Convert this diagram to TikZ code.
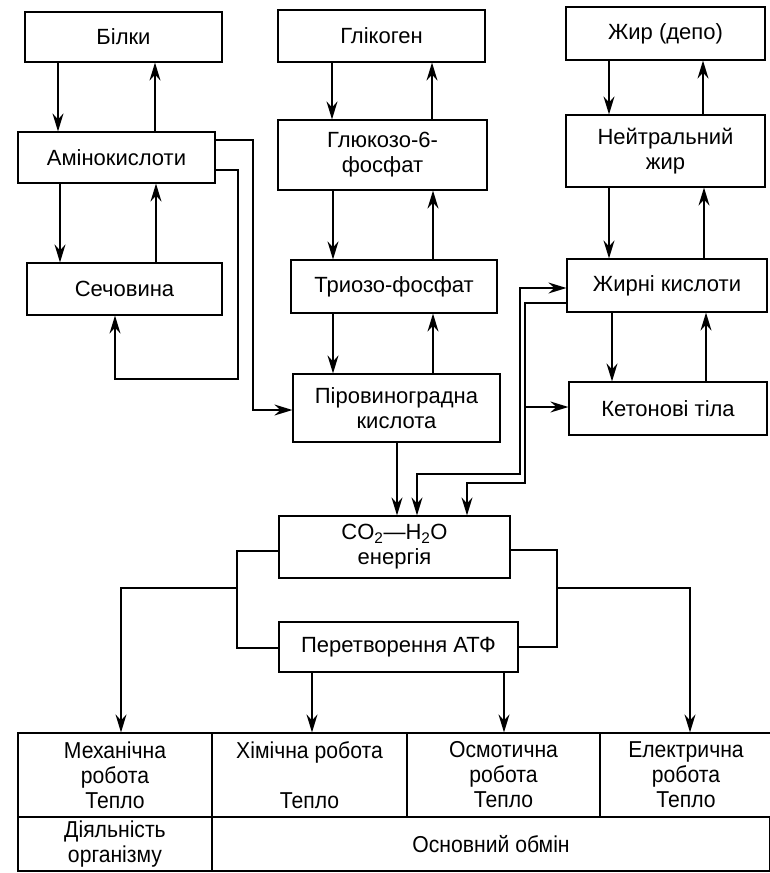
\documentclass[tikz,border=0pt]{standalone}
\usepackage{fontspec}
\setmainfont{Liberation Sans}
\newfontfamily\narrowfont[FakeStretch=0.92]{Liberation Sans}
\usetikzlibrary{arrows.meta}

\begin{document}
\begin{tikzpicture}[x=1pt,y=-1pt,line width=1.2pt,
    >={Stealth[length=18pt,width=11pt,inset=6pt]},
    box/.style={draw,rectangle,inner sep=0pt,align=center,
      font=\fontsize{22}{25}\selectfont},
    cell/.style={draw,rectangle,inner sep=0pt,align=center,
      font=\narrowfont\fontsize{23}{25}\selectfont}]
      \useasboundingbox (0,0) rectangle (770,873);
      \draw
        (123.5,37) node[box,minimum width=197pt,minimum height=50pt] (bilky){Білки}
        (116.5,157.5) node[box,minimum width=197pt,minimum height=51pt] (amino){Амінокислоти}
        (124.5,289) node[box,minimum width=195pt,minimum height=52pt] (sech){Сечовина}
        (381.5,36) node[box,minimum width=207pt,minimum height=52pt] (glik){Глікоген}
        (382.5,155) node[box,minimum width=209pt,minimum height=70pt] (gluk){Глюкозо-6-\\фосфат}
        (394,286.5) node[box,minimum width=206pt,minimum height=53pt] (trioz){Триозо-фосфат}
        (396.5,408) node[box,minimum width=207pt,minimum height=68pt] (piro){Піровиноградна\\кислота}
        (665.5,33.5) node[box,minimum width=199pt,minimum height=53pt] (depo){Жир (депо)}
        (665.5,151) node[box,minimum width=199pt,minimum height=72pt] (neut){Нейтральний\\жир}
        (667,285.5) node[box,minimum width=200pt,minimum height=53pt] (zhk){Жирні кислоти}
        (668,408.5) node[box,minimum width=198pt,minimum height=53pt] (keto){Кетонові тіла}
        (394.5,547) node[box,minimum width=231pt,minimum height=62pt] (co2){CO\textsubscript{2}---H\textsubscript{2}O\\енергія}
        (398.5,647) node[box,minimum width=239pt,minimum height=50pt] (atf){Перетворення АТФ};
      \draw
        (115,775) node[cell,minimum width=194pt,minimum height=84pt] (mech){Механічна\\робота\\Тепло}
        (309.5,775) node[cell,minimum width=195pt,minimum height=84pt] (him){Хімічна робота\\\strut\\Тепло}
        (503.5,775) node[cell,minimum width=193pt,minimum height=84pt] (osm){Осмотична\\робота\\Тепло}
        (686,775) node[cell,minimum width=172pt,minimum height=84pt] (elek){Електрична\\робота\\Тепло}
        (115,844) node[cell,minimum width=194pt,minimum height=54pt] (dial){Діяльність\\організму}
        (491,844) node[cell,minimum width=558pt,minimum height=54pt] (osn){Основний обмін};
      \coordinate (kbranch) at (525,407);
      \coordinate (lbranch) at (237,588);
      \coordinate (rbranch) at (557,588);
      \begin{scope}[->]
        \draw (bilky.south -| 58,0) to (amino.north -| 58,0);
        \draw (amino.north -| 155,0) to (bilky.south -| 155,0);
        \draw (amino.south -| 60,0) to (sech.north -| 60,0);
        \draw (sech.north -| 156,0) to (amino.south -| 156,0);
        \draw (glik.south -| 332,0) to (gluk.north -| 332,0);
        \draw (gluk.north -| 432,0) to (glik.south -| 432,0);
        \draw (gluk.south -| 333,0) to (trioz.north -| 333,0);
        \draw (trioz.north -| 433,0) to (gluk.south -| 433,0);
        \draw (trioz.south -| 333,0) to (piro.north -| 333,0);
        \draw (piro.north -| 433,0) to (trioz.south -| 433,0);
        \draw (depo.south -| 609,0) to (neut.north -| 609,0);
        \draw (neut.north -| 703,0) to (depo.south -| 703,0);
        \draw (neut.south -| 609,0) to (zhk.north -| 609,0);
        \draw (zhk.north -| 704,0) to (neut.south -| 704,0);
        \draw (zhk.south -| 612,0) to (keto.north -| 612,0);
        \draw (keto.north -| 706,0) to (zhk.south -| 706,0);
        \draw (piro.south -| 397,0) to (co2.north -| 397,0);
        \draw (amino.east |- 0,170) -| (238,379) -| (sech.south -| 115,0);
        \draw (amino.east |- 0,140) -| (253,410) -- (piro.west |- 0,410);
        \draw[<->] (co2.north -| 417,0) |- (520,474) |- (zhk.west |- 0,288);
        \draw (zhk.west |- 0,303) -| (525,483) -| (co2.north -| 467,0);
        \draw (kbranch) to (keto.west |- kbranch);
        \draw (lbranch) -| (mech.north -| 121,0);
        \draw (rbranch) -| (elek.north -| 690,0);
        \draw (atf.south -| 312,0) to (him.north -| 312,0);
        \draw (atf.south -| 504,0) to (osm.north -| 504,0);
      \end{scope}
      \draw (co2.west |- 0,551) -| (237,648) -- (atf.west |- 0,648);
      \draw (co2.east |- 0,550) -| (557,647) -- (atf.east |- 0,647);
    \end{tikzpicture}
\end{document}
